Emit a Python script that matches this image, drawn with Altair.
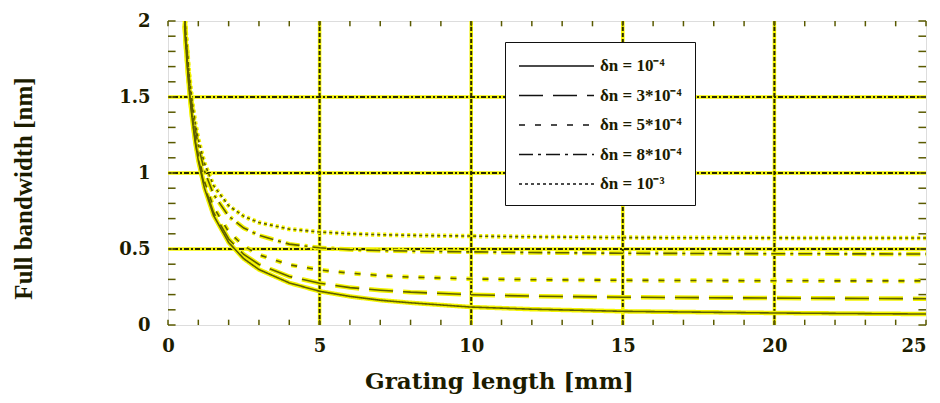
import altair as alt
import pandas as pd

# Grating length [mm]
L = [0.55, 0.6, 0.7, 0.8, 0.9, 1.0, 1.2, 1.5, 2.0, 2.5, 3.0, 4.0, 5.0, 6.0, 7.0, 8.0,
     10.0, 12.0, 15.0, 20.0, 25.0]

series_names = ["δn = 10⁻⁴", "δn = 3*10⁻⁴", "δn = 5*10⁻⁴", "δn = 8*10⁻⁴", "δn = 10⁻³"]

bw_1e4 = [1.965, 1.80, 1.544, 1.351, 1.20, 1.082, 0.902, 0.722, 0.543, 0.436, 0.365, 0.277,
          0.222, 0.188, 0.163, 0.146, 0.118, 0.104, 0.090, 0.079, 0.072]
bw_3e4 = [1.971, 1.808, 1.552, 1.361, 1.212, 1.093, 0.916, 0.740, 0.566, 0.464, 0.398, 0.319,
          0.275, 0.246, 0.229, 0.216, 0.199, 0.190, 0.183, 0.177, 0.173]
bw_5e4 = [1.985, 1.823, 1.570, 1.381, 1.235, 1.118, 0.946, 0.776, 0.613, 0.520, 0.462, 0.396,
          0.362, 0.341, 0.325, 0.315, 0.303, 0.298, 0.294, 0.291, 0.290]
bw_8e4 = [2.019, 1.887, 1.613, 1.430, 1.289, 1.178, 1.015, 0.860, 0.716, 0.638, 0.590, 0.532,
          0.508, 0.496, 0.490, 0.486, 0.481, 0.477, 0.472, 0.469, 0.467]
bw_1e3 = [2.045, 1.888, 1.645, 1.465, 1.328, 1.221, 1.065, 0.918, 0.785, 0.715, 0.674, 0.631,
          0.612, 0.600, 0.594, 0.590, 0.585, 0.580, 0.575, 0.573, 0.572]

x_ticks = [0, 5, 10, 15, 20, 25]
y_ticks = [0, 0.5, 1, 1.5, 2]
x_grid = [5, 10, 15, 20]
y_grid = [0.5, 1, 1.5]
x_minor = list(range(0, 26))
y_minor = [round(i * 0.1, 1) for i in range(0, 21)]

dash_range = [[1, 0], [24, 10], [6, 10], [14, 5, 3, 5], [3, 3]]

rows = []
for name, vals in zip(series_names, [bw_1e4, bw_3e4, bw_5e4, bw_8e4, bw_1e3]):
    for l, v in zip(L, vals):
        rows.append({"L": l, "bw": v, "series": name})
df = pd.DataFrame(rows)

W, H = 758, 304
xs = alt.Scale(domain=[0, 25], nice=False, zero=False)
ys = alt.Scale(domain=[0, 2], nice=False, zero=False)

SERIF = "Liberation Serif"
WIDE = "DejaVu Serif"
INK = "#1c1c00"

x_enc = alt.X("L:Q", scale=xs, axis=alt.Axis(
    values=x_ticks, title="Grating length [mm]", grid=False, ticks=False, domain=False,
    labelFlush=False,
    labelAlign={"condition": {"test": "datum.value >= 25", "value": "right"}, "value": "center"},
    labelFont=WIDE, labelFontSize=18, labelFontWeight="bold", labelColor=INK, labelPadding=12,
    titleFont=WIDE, titleFontSize=23, titleFontWeight="bold", titleColor=INK, titlePadding=15,
    titleX=331))
y_enc = alt.Y("bw:Q", scale=ys, axis=alt.Axis(
    values=y_ticks, title="Full bandwidth [nm]", grid=False, ticks=False, domain=False,
    labelFlush=False, format="~g",
    labelFont=WIDE, labelFontSize=18, labelFontWeight="bold", labelColor=INK, labelPadding=18,
    titleFont=SERIF, titleFontSize=25, titleFontWeight="bold", titleColor=INK, titlePadding=82,
    titleY=167))

dash_scale = alt.Scale(domain=series_names, range=dash_range)

halo = alt.Chart(df).mark_line(color="#f4f400", strokeWidth=4.5, clip=True).encode(
    x=x_enc, y=y_enc,
    strokeDash=alt.StrokeDash("series:N", scale=dash_scale, legend=None),
    detail="series:N")

core = alt.Chart(df).mark_line(color="#5e5e00", strokeWidth=1.6, clip=True).encode(
    x="L:Q", y="bw:Q",
    strokeDash=alt.StrokeDash("series:N", scale=dash_scale, sort=series_names,
                              legend=alt.Legend(
                                  title=None, orient="none", legendX=337, legendY=21,
                                  symbolType="M-1,0H6.5", symbolSize=400, symbolStrokeWidth=1.4,
                                  symbolStrokeColor="#111111",
                                  labelFont=SERIF, labelFontSize=17, labelFontWeight="bold",
                                  labelColor=INK, labelOffset=60,
                                  padding=13, rowPadding=10.5,
                                  fillColor="white", strokeColor="#111111")),
    detail="series:N")

gx_df = pd.DataFrame({"g": x_grid})
gy_df = pd.DataFrame({"g": y_grid})
gx_halo = alt.Chart(gx_df).mark_rule(color="#f4f400", strokeWidth=3.5).encode(x=alt.X("g:Q", scale=xs))
gx_core = alt.Chart(gx_df).mark_rule(color="#2a2a00", strokeWidth=2, strokeDash=[4, 2]).encode(x=alt.X("g:Q", scale=xs))
gy_halo = alt.Chart(gy_df).mark_rule(color="#f4f400", strokeWidth=3.5).encode(y=alt.Y("g:Q", scale=ys))
gy_core = alt.Chart(gy_df).mark_rule(color="#2a2a00", strokeWidth=2, strokeDash=[5, 2, 2, 2]).encode(y=alt.Y("g:Q", scale=ys))

tx_df = pd.DataFrame({"t": x_minor, "y0": 0.0, "y1": 0.035, "y2": 2.0, "y3": 1.965})
ty_df = pd.DataFrame({"t": y_minor, "x0": 0.0, "x1": 0.25, "x2": 25.0, "x3": 24.75})
tick_col = "#5a5a00"
tb = alt.Chart(tx_df).mark_rule(color=tick_col, strokeWidth=1.5).encode(
    x=alt.X("t:Q", scale=xs), y=alt.Y("y0:Q", scale=ys), y2="y1:Q")
tt = alt.Chart(tx_df).mark_rule(color=tick_col, strokeWidth=1.5).encode(
    x=alt.X("t:Q", scale=xs), y=alt.Y("y2:Q", scale=ys), y2="y3:Q")
tl = alt.Chart(ty_df).mark_rule(color=tick_col, strokeWidth=1.5).encode(
    y=alt.Y("t:Q", scale=ys), x=alt.X("x0:Q", scale=xs), x2="x1:Q")
tr = alt.Chart(ty_df).mark_rule(color=tick_col, strokeWidth=1.5).encode(
    y=alt.Y("t:Q", scale=ys), x=alt.X("x2:Q", scale=xs), x2="x3:Q")

chart = alt.layer(
    gx_halo, gy_halo, gx_core, gy_core, tb, tt, tl, tr, halo, core
).resolve_scale(strokeDash="independent").resolve_legend(strokeDash="independent").properties(
    width=W, height=H,
    autosize=alt.AutoSizeParams(type="none"),
    padding={"left": 160, "top": 13, "right": 6, "bottom": 70},
).configure_view(stroke="#7a7a00", strokeWidth=3).configure(background="white")

chart.save("out.html", embed_options={"renderer": "svg", "actions": False})
